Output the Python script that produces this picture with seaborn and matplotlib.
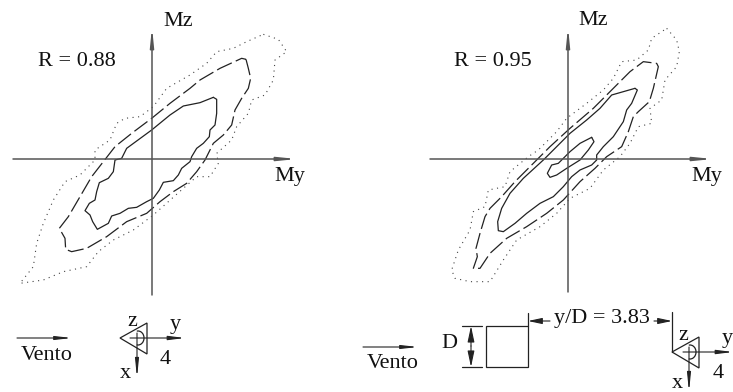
import numpy as np
import matplotlib
matplotlib.use("Agg")
import matplotlib.pyplot as plt
from matplotlib.patches import Arc, Polygon, Rectangle
import seaborn as sns

# contours (3x picture units, y going down)
left_solid_x = [640,650,650,645,630,628,610,590,575,570,545,535,520,490,478,460,440,410,385,360,335,325,292,278,270,255,268,285,290,298,325,340,345,365,380,455,510,550,600,640]
left_solid_y = [292,298,340,375,390,410,430,445,470,485,505,525,542,547,570,595,605,622,625,640,648,670,688,665,645,632,610,600,575,548,535,515,480,475,445,390,345,318,308,292]
left_dash_x = [738,745,752,745,725,705,695,670,640,615,590,560,520,480,440,380,320,260,215,197,195,178,205,240,275,310,345,395,455,510,570,600,660,725,738]
left_dash_y = [178,205,235,265,295,330,375,405,430,480,515,550,575,605,640,665,710,745,755,748,715,685,650,590,530,485,440,400,355,310,265,240,205,175,178]
left_dot_x = [790,835,860,825,820,795,755,745,710,695,650,655,630,590,550,505,460,400,340,295,260,190,130,60,100,110,130,160,195,240,285,285,330,350,375,420,460,500,570,620,650,700,740,790]
left_dot_y = [103,118,155,180,240,285,300,340,380,420,460,490,530,530,565,605,645,690,720,755,800,815,840,850,800,730,670,600,545,525,480,450,420,370,355,350,320,265,225,190,155,145,125,103]

right_solid_x = [705,712,695,680,670,640,610,590,590,575,540,515,490,460,420,380,345,310,295,293,305,330,370,430,470,510,560,600,635,670,705]
right_solid_y = [265,270,310,330,365,410,440,465,480,495,510,530,560,590,610,640,670,695,692,665,625,580,535,480,440,400,360,325,285,275,265]
right_inner_x = [575,582,565,540,500,470,450,442,455,475,510,540,575]
right_inner_y = [412,425,450,480,505,525,532,520,495,490,455,430,412]
right_dash_x = [770,775,760,748,715,700,685,665,620,585,540,490,440,380,320,270,240,220,232,228,240,255,270,305,345,400,450,510,580,640,690,730,770]
right_dash_y = [190,200,265,305,335,350,395,440,470,505,545,600,640,680,715,760,805,805,770,745,700,650,625,590,545,490,440,385,325,265,215,185,190]
right_dot_x = [800,830,838,830,795,785,750,755,715,690,660,610,570,510,470,420,350,310,270,210,165,155,175,210,220,255,265,315,330,385,415,470,500,560,610,640,665,710,745,755,800]
right_dot_y = [85,120,155,200,240,300,325,370,380,430,470,510,565,595,640,680,720,780,845,845,835,810,750,690,635,620,570,560,515,470,450,395,355,310,270,235,185,180,150,115,85]

left_r = "R = 0.88"
right_r = "R = 0.95"
wind_label = "Vento"
gap_label = "y/D = 3.83"

sns.set_theme(style="white")
plt.rcParams["font.family"] = ["Liberation Serif", "DejaVu Serif"]

DARK = "#222222"
AXIS = "#555555"
DASH = (0, (13, 3.5))
DOT = (0, (1, 4))


def arrow(ax, x0, y0, x1, y1, lw=0.8, color=DARK, hl=0.8, hw=0.09):
    ax.annotate("", xy=(x1, y1), xytext=(x0, y0),
                arrowprops=dict(arrowstyle=f"-|>,head_length={hl},head_width={hw}",
                                lw=lw, color=color, shrinkA=0, shrinkB=0))


def label(ax, x, y, s, size=16):
    ax.text(x, y, s, fontsize=size, color="#111111", ha="center", va="center")


def contour(ax, xs, ys, x_off, style, color=DARK, lw=0.9):
    sns.lineplot(x=np.array(xs) / 3 + x_off, y=np.array(ys) / 3, sort=False, estimator=None,
                 color=color, linewidth=lw, linestyle=style, ax=ax)


def moment_axes(ax, x0, left, right, bottom):
    arrow(ax, left, 159, right, 159, lw=1.1, color=AXIS, hl=0.9, hw=0.09)
    arrow(ax, x0, bottom, x0, 27, lw=1.1, color=AXIS, hl=0.9, hw=0.09)


def probe(ax, tip_x, y, y_end, x_arrow, x_start):
    ax.add_patch(Polygon([(tip_x, y), (tip_x + 27, y - 15), (tip_x + 27, y + 16)],
                         fill=False, ec=DARK, lw=0.9))
    ax.add_patch(Arc((x_arrow + 1, y), 12, 14, theta1=-100, theta2=100, ec=DARK, lw=0.9))
    arrow(ax, x_start, y, y_end, y, hl=0.8, hw=0.1)
    arrow(ax, x_arrow, y - 5, x_arrow, y + 40, hl=0.9, hw=0.09)


fig = plt.figure(figsize=(7.33, 3.92), dpi=100)
ax = fig.add_axes([0, 0, 1, 1])

contour(ax, left_solid_x, left_solid_y, 0, "-")
contour(ax, left_dash_x, left_dash_y, 0, DASH)
contour(ax, left_dot_x, left_dot_y, 0, DOT, color="#444444", lw=0.8)
contour(ax, right_solid_x, right_solid_y, 400, "-")
contour(ax, right_inner_x, right_inner_y, 400, "-")
contour(ax, right_dash_x, right_dash_y, 400, DASH)
contour(ax, right_dot_x, right_dot_y, 400, DOT, color="#444444", lw=0.8)

moment_axes(ax, 152, 13, 297, 295)
moment_axes(ax, 568, 430, 713, 292)

label(ax, 178, 21, "Mz")
label(ax, 290, 176, "My")
label(ax, 77, 61, left_r)
label(ax, 593, 20, "Mz")
label(ax, 707, 176, "My")
label(ax, 493, 61, right_r)

# left schematic
arrow(ax, 17, 338, 72, 338)
label(ax, 47, 356, wind_label)
probe(ax, 120, 338, 185, 137, 130)
label(ax, 132, 321, "z")
label(ax, 175, 325, "y")
label(ax, 125, 373, "x")
label(ax, 165, 360, "4")

# right schematic
arrow(ax, 363, 347, 418, 347)
label(ax, 393, 364, wind_label)
label(ax, 449, 344, "D")
ax.add_patch(Rectangle((486, 326), 42, 41, fill=False, ec=DARK, lw=0.9))
ax.plot([462, 482], [326, 326], color=DARK, lw=0.9)
ax.plot([462, 482], [367, 367], color=DARK, lw=0.9)
arrow(ax, 471, 346, 471, 326, hl=0.8, hw=0.17)
arrow(ax, 471, 346, 471, 367, hl=0.8, hw=0.17)
ax.plot([528, 528], [313, 326], color=DARK, lw=0.9)
ax.plot([672, 672], [312, 352], color=DARK, lw=0.9)
arrow(ax, 550, 321, 528, 321, hl=0.7, hw=0.15)
arrow(ax, 654, 321, 672, 321, hl=0.7, hw=0.15)
label(ax, 602, 319, gap_label)
probe(ax, 672, 352, 733, 689, 683)
label(ax, 683, 335, "z")
label(ax, 727, 338, "y")
label(ax, 677, 383, "x")
label(ax, 718, 373, "4")

ax.set_xlim(0, 733)
ax.set_ylim(392, 0)
ax.axis("off")

fig.savefig("out.png", dpi=100)
